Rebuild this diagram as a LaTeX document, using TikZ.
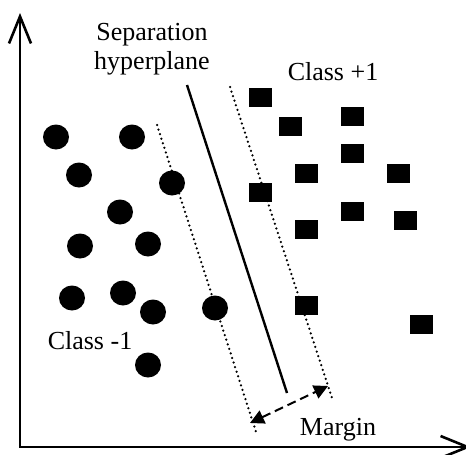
\documentclass[tikz,border=0pt]{standalone}
\usepackage{fontspec}
\setmainfont{Liberation Serif}
\usetikzlibrary{arrows.meta}
\begin{document}
\begin{tikzpicture}[x=1pt,y=-1pt,
    lbl/.style={inner sep=0pt,font=\fontsize{26}{29}\selectfont},
    dots/.style={line width=2.5pt,line cap=round,dash pattern=on 0pt off 4.8pt}]
    \useasboundingbox (0,0) rectangle (466,455);
    \draw[line width=2.6pt,{Straight Barb[length=27pt,width=22pt]}-{Straight Barb[length=27pt,width=22pt]}] (20,13) |- (471,447);
    \foreach \x/\y in {56/137,132/137,79/175,172/183,120/212,80/246,148/244,72/298,123/293,153/312,215/308,148/365}
      \fill (\x,\y) ellipse (13pt and 12.5pt);
    \foreach \x/\y in {260/97,290/126,352/116,352/153,306/173,398/173,260/192,352/211,405/220,306/229,306/305,421/324}
      \fill (\x-11.5,\y-9.5) rectangle ++(23,19);
    \draw[line width=2.4pt] (187,85) -- (287,393);
    \draw[dots] (157,125) -- (257,435);
    \draw[dots] (230,87) -- (332,398);
    \coordinate (mL) at (250,423);
    \coordinate (mR) at (328,386);
    \draw[line width=2pt,dash pattern=on 9pt off 5pt,{Triangle[length=14pt,width=14pt]}-{Triangle[length=14pt,width=14pt]}] (mL) -- (mR);
    \node[lbl,align=center] (sep) at (152,49) {Separation\\hyperplane};
    \node[lbl,anchor=base] (pos) at (333,80) {Class +1};
    \node[lbl,anchor=base] (neg) at (90,349) {Class -1};
    \node[lbl,anchor=base] (mgn) at (338,435) {Margin};
  \end{tikzpicture}
\end{document}
